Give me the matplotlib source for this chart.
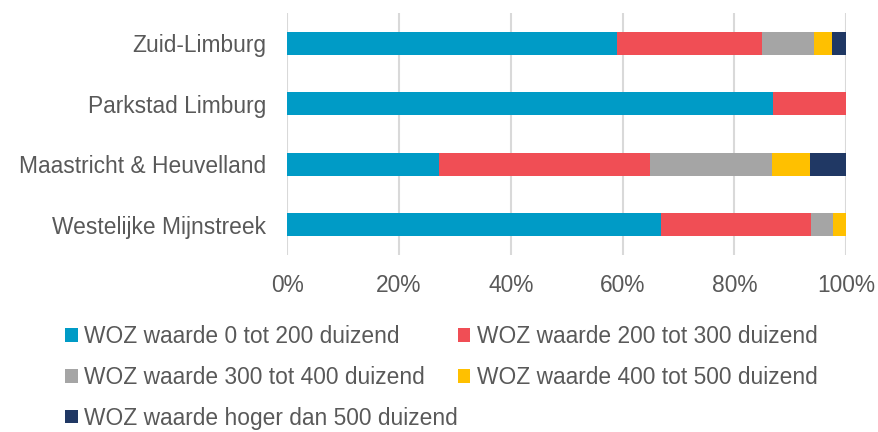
import numpy as np
import matplotlib.pyplot as plt
from matplotlib.patches import Patch

# regions, top to bottom as in the chart
regions = ["Zuid-Limburg", "Parkstad Limburg", "Maastricht & Heuvelland", "Westelijke Mijnstreek"]

# share of homes (%) per WOZ band, same order as regions
woz_0_200 = [59.1, 87.0, 27.1, 66.8]
woz_200_300 = [25.9, 13.0, 37.9, 27.0]
woz_300_400 = [9.3, 0.0, 21.8, 3.9]
woz_400_500 = [3.2, 0.0, 6.8, 2.3]
woz_500_plus = [2.5, 0.0, 6.4, 0.0]

series_labels = [
    "WOZ waarde 0 tot 200 duizend",
    "WOZ waarde 200 tot 300 duizend",
    "WOZ waarde 300 tot 400 duizend",
    "WOZ waarde 400 tot 500 duizend",
    "WOZ waarde hoger dan 500 duizend",
]
colors = ["#009BC6", "#F04E55", "#A5A5A5", "#FFC000", "#203864"]
text_color = "#595959"

plt.rcParams['font.family'] = ['Liberation Sans', 'DejaVu Sans']

fig = plt.figure(figsize=(8.79, 4.32), dpi=100)
ax = fig.add_axes([287.3 / 879, 1 - 255 / 432, (846 - 287.3) / 879, (255 - 13) / 432])

y = np.arange(len(regions))
left = np.zeros(len(regions))
series = [woz_0_200, woz_200_300, woz_300_400, woz_400_500, woz_500_plus]
for vals, col in zip(series, colors):
    vals = np.array(vals)
    ax.barh(y, vals, left=left, height=0.385, color=col, edgecolor="none", zorder=3)
    left += vals

ax.set_xlim(0, 100)
ax.set_ylim(len(regions) - 0.5, -0.5)
ax.set_yticks(y)
ax.set_yticklabels(regions)
ax.set_xticks(np.arange(0, 101, 20))
ax.set_xticklabels([f"{v}%" for v in range(0, 101, 20)])
ax.tick_params(axis="y", length=0, pad=15, labelsize=16.4, labelcolor=text_color)
ax.tick_params(axis="x", length=0, pad=14, labelsize=16.4, labelcolor=text_color)
ax.grid(axis="x", color="#D9D9D9", linewidth=1.5, zorder=0)
for s in ax.spines.values():
    s.set_visible(False)

handles = [Patch(facecolor=c, edgecolor="none") for c in colors]
order = [0, 2, 4, 1, 3]  # fill row-wise like the original
fig.legend([handles[i] for i in order], [series_labels[i] for i in order],
           loc="upper left", bbox_to_anchor=(65 / 879, 1 - 325 / 432),
           ncol=2, frameon=False, fontsize=16.4, labelcolor=text_color,
           borderpad=0, borderaxespad=0, handlelength=0.55, handleheight=0.55,
           handletextpad=0.28, labelspacing=0.78, columnspacing=0.0)

plt.savefig("out.png", dpi=100)
